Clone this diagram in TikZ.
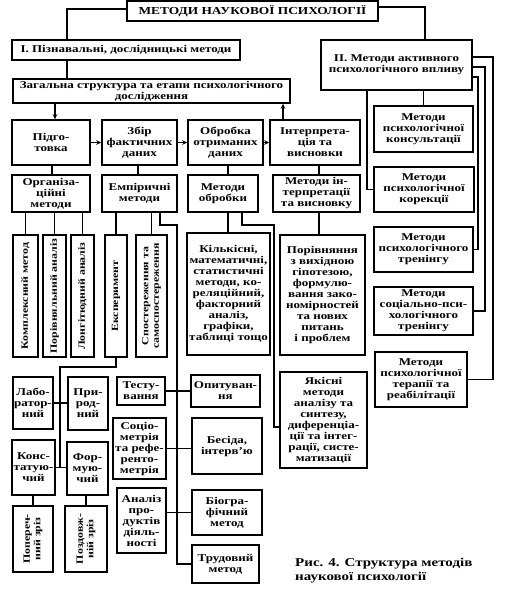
\documentclass[tikz,border=0pt]{standalone}
\usepackage{fontspec}
\setmainfont{Liberation Serif}[FakeStretch=1.25]
\usetikzlibrary{arrows.meta}
\begin{document}
\begin{tikzpicture}[x=1pt,y=-1pt,
 box/.style={draw, line width=1.5pt, align=center, inner sep=0pt, font=\bfseries\fontsize{10.4}{11}\selectfont},
 vbox/.style={box, rotate=90, font=\bfseries\fontsize{9.5}{10.5}\selectfont},
 conn/.style={line width=1.1pt},
 arr/.style={conn, -{Stealth[length=5pt,width=4.5pt]}},
]
\useasboundingbox (0,0) rectangle (514,594);
\fill[white] (0,0) rectangle (514,594);

% nodes
\node[box, minimum width=251pt, minimum height=20pt, font=\bfseries\fontsize{10.7}{12}\selectfont] (title) at (252.5,11) {МЕТОДИ НАУКОВОЇ ПСИХОЛОГІЇ};
\node[box, minimum width=228pt, minimum height=20pt] (I) at (126,50) {І. Пізнавальні, дослідницькі методи};
\node[box, minimum width=277pt, minimum height=24pt] (zag) at (151.5,91) {Загальна структура та етапи психологічного\\дослідження};
\node[box, minimum width=78pt, minimum height=45pt] (pid) at (51,142.5) {Підго-\\товка};
\node[box, minimum width=75pt, minimum height=45pt] (zbir) at (139.5,142.5) {Збір\\фактичних\\даних};
\node[box, minimum width=75pt, minimum height=45pt] (obr) at (225.5,142.5) {Обробка\\отриманих\\даних};
\node[box, minimum width=90pt, minimum height=45pt] (int) at (315,142.5) {Інтерпрета-\\ція та\\висновки};
\node[box, minimum width=78pt, minimum height=37pt] (org) at (51,193.5) {Організа-\\ційні\\методи};
\node[box, minimum width=75pt, minimum height=37pt] (emp) at (139.5,193.5) {Емпіричні\\методи};
\node[box, minimum width=70pt, minimum height=37pt] (mobr) at (223,193.5) {Методи\\обробки};
\node[box, minimum width=87pt, minimum height=37pt] (mint) at (316.5,193.5) {Методи ін-\\терпретації\\та висновку};

\node[vbox, minimum width=122pt, minimum height=25pt] (komp) at (25.5,296) {Комплексний метод};
\node[vbox, minimum width=122pt, minimum height=23pt] (porivn) at (54.5,296) {Порівняльний аналіз};
\node[vbox, minimum width=122pt, minimum height=23pt] (long) at (82.5,296) {Лонгітюдний аналіз};
\node[vbox, minimum width=122pt, minimum height=22pt] (eksp) at (116,296) {Експеримент};
\node[vbox, minimum width=122pt, minimum height=31pt] (spost) at (151.5,296) {Спостереження та\\самоспостереження};

\node[box, minimum width=83pt, minimum height=122pt] (kil) at (228.5,294) {Кількісні,\\математичні,\\статистичні\\методи, ко-\\реляційний,\\факторний\\аналіз,\\графіки,\\таблиці тощо};
\node[box, minimum width=85pt, minimum height=120pt] (por) at (322.5,295) {Порівняння\\з вихідною\\гіпотезою,\\формулю-\\вання зако-\\номірностей\\та нових\\питань\\і проблем};
\node[box, minimum width=87pt, minimum height=96pt] (yak) at (323.5,420) {Якісні\\методи\\аналізу та\\синтезу,\\диференціа-\\ції та інтег-\\рації, систе-\\матизації};

\node[box, minimum width=40pt, minimum height=52pt] (lab) at (33,403) {Лабо-\\ратор-\\ний};
\node[box, minimum width=40pt, minimum height=53pt] (pryr) at (88,403.5) {При-\\род-\\ний};
\node[box, minimum width=43pt, minimum height=55pt] (kons) at (33.5,467.5) {Конс-\\татую-\\чий};
\node[box, minimum width=41pt, minimum height=53pt] (form) at (87.5,468.5) {Фор-\\мую-\\чий};
\node[vbox, minimum width=66pt, minimum height=40pt] (pop) at (33,539) {Попереч-\\ний зріз};
\node[vbox, minimum width=66pt, minimum height=42pt] (pozd) at (86,539) {Поздовж-\\ній зріз};

\node[box, minimum width=48pt, minimum height=28pt] (test) at (141,391) {Тесту-\\вання};
\node[box, minimum width=53pt, minimum height=61pt] (soc) at (139.5,448.5) {Соціо-\\метрія\\та рефе-\\ренто-\\метрія};
\node[box, minimum width=49pt, minimum height=65pt] (anal) at (141.5,520.5) {Аналіз\\про-\\дуктів\\діяль-\\ності};

\node[box, minimum width=69pt, minimum height=32pt] (opyt) at (225.5,391) {Опитуван-\\ня};
\node[box, minimum width=70pt, minimum height=56pt] (bes) at (227,446) {Бесіда,\\інтерв’ю};
\node[box, minimum width=70pt, minimum height=45pt] (bio) at (227,512.5) {Біогра-\\фічний\\метод};
\node[box, minimum width=67pt, minimum height=38pt] (trud) at (225.5,564) {Трудовий\\метод};

\node[box, minimum width=151pt, minimum height=50pt] (II) at (396.5,65) {ІІ. Методи активного\\психологічного впливу};
\node[box, minimum width=99pt, minimum height=46pt] (kons2) at (423.5,129) {Методи\\психологічної\\консультації};
\node[box, minimum width=100pt, minimum height=45pt] (kor) at (424,189.5) {Методи\\психологічної\\корекції};
\node[box, minimum width=99pt, minimum height=45pt] (tren) at (423.5,249.5) {Методи\\психологічного\\тренінгу};
\node[box, minimum width=99pt, minimum height=48pt] (soc2) at (423.5,311) {Методи\\соціально-пси-\\хологічного\\тренінгу};
\node[box, minimum width=92pt, minimum height=55pt] (ter) at (421,379.5) {Методи\\психологічної\\терапії та\\реабілітації};

\node[font=\bfseries\fontsize{12}{14}\selectfont, align=left, anchor=north west, inner sep=0pt] (cap) at (295,558) {Рис. 4. Структура методів\\наукової психології};

% helper coordinates
\coordinate (xa) at (67,0);
\coordinate (xb) at (425,0);
\coordinate (x55) at (55,0);
\coordinate (x283) at (283,0);
\coordinate (x52) at (52,0);
\coordinate (x138) at (138,0);
\coordinate (x228) at (228,0);
\coordinate (x319) at (319,0);
\coordinate (e1) at (160,225);
\coordinate (ebus) at (177,0);
\coordinate (m1) at (242,225);
\coordinate (mbend) at (274,427);
\coordinate (ex1) at (116,367);
\coordinate (ex2) at (60,367);
\coordinate (xl) at (367,0);
\coordinate (r1) at (493,57);
\coordinate (r2) at (485,67);
\coordinate (r3) at (478,77);

% connectors
\draw[conn] ([yshift=2pt]title.west) -| (I.north -| xa);
\draw[conn] ([yshift=4pt]title.east) -| (II.north -| xb);
\draw[conn] (I.south -| xa) -- (zag.north -| xa);
\draw[arr] (zag.south -| x55) -- (pid.north -| x55);
\draw[arr] (int.north -| x283) -- (zag.south -| x283);
\draw[arr] (pid.east) -- (zbir.west);
\draw[arr] (zbir.east) -- (obr.west);
\draw[arr] (obr.east) -- (int.west);
\draw[conn] (pid.south -| x52) -- (org.north -| x52);
\draw[conn] (zbir.south -| x138) -- (emp.north -| x138);
\draw[conn] (obr.south -| x228) -- (mobr.north -| x228);
\draw[conn] (int.south -| x319) -- (mint.north -| x319);
\draw[conn] (mint.south -| x319) -- (por.north -| x319);
\draw[conn] (mobr.south -| x228) -- (kil.north -| x228);

\draw[conn] (komp.east |- org.south) -- (komp.east);
\draw[conn] (porivn.east |- org.south) -- (porivn.east);
\draw[conn] (long.east |- org.south) -- (long.east);
\draw[conn] (eksp.east |- emp.south) -- (eksp.east);
\draw[conn] (spost.east |- emp.south) -- (spost.east);

\draw[conn] (emp.south -| e1) -- (e1) -| (trud.west -| ebus) -- (trud.west);
\draw[conn] (test.east) -- (opyt.west);
\draw[conn] (soc.east) -- (soc.east -| bes.west);
\draw[conn] (bio.west) -- (bio.west -| anal.east);

\draw[conn] (mobr.south -| m1) -- (m1) -| (mbend) -- (mbend -| yak.west);

\draw[conn] (eksp.west) -- (eksp.west |- ex1) -- (ex2) -- (ex2 |- kons.east);
\draw[conn] (lab.east) -- (lab.east -| pryr.west);
\draw[conn] (kons.east) -- (kons.east -| form.west);
\draw[conn] (pop.east) -- (pop.east |- kons.south);
\draw[conn] (pozd.east) -- (pozd.east |- form.south);

\draw[conn] (kons2.north) -- (kons2.north |- II.south);
\draw[conn] (II.south -| xl) |- (kor.west);
\draw[conn] (II.east |- r1) -| (r1 |- ter.east) -- (ter.east);
\draw[conn] (II.east |- r2) -| (r2 |- soc2.east) -- (soc2.east);
\draw[conn] (II.east |- r3) -| (r3 |- tren.east) -- (tren.east);
\end{tikzpicture}
\end{document}
